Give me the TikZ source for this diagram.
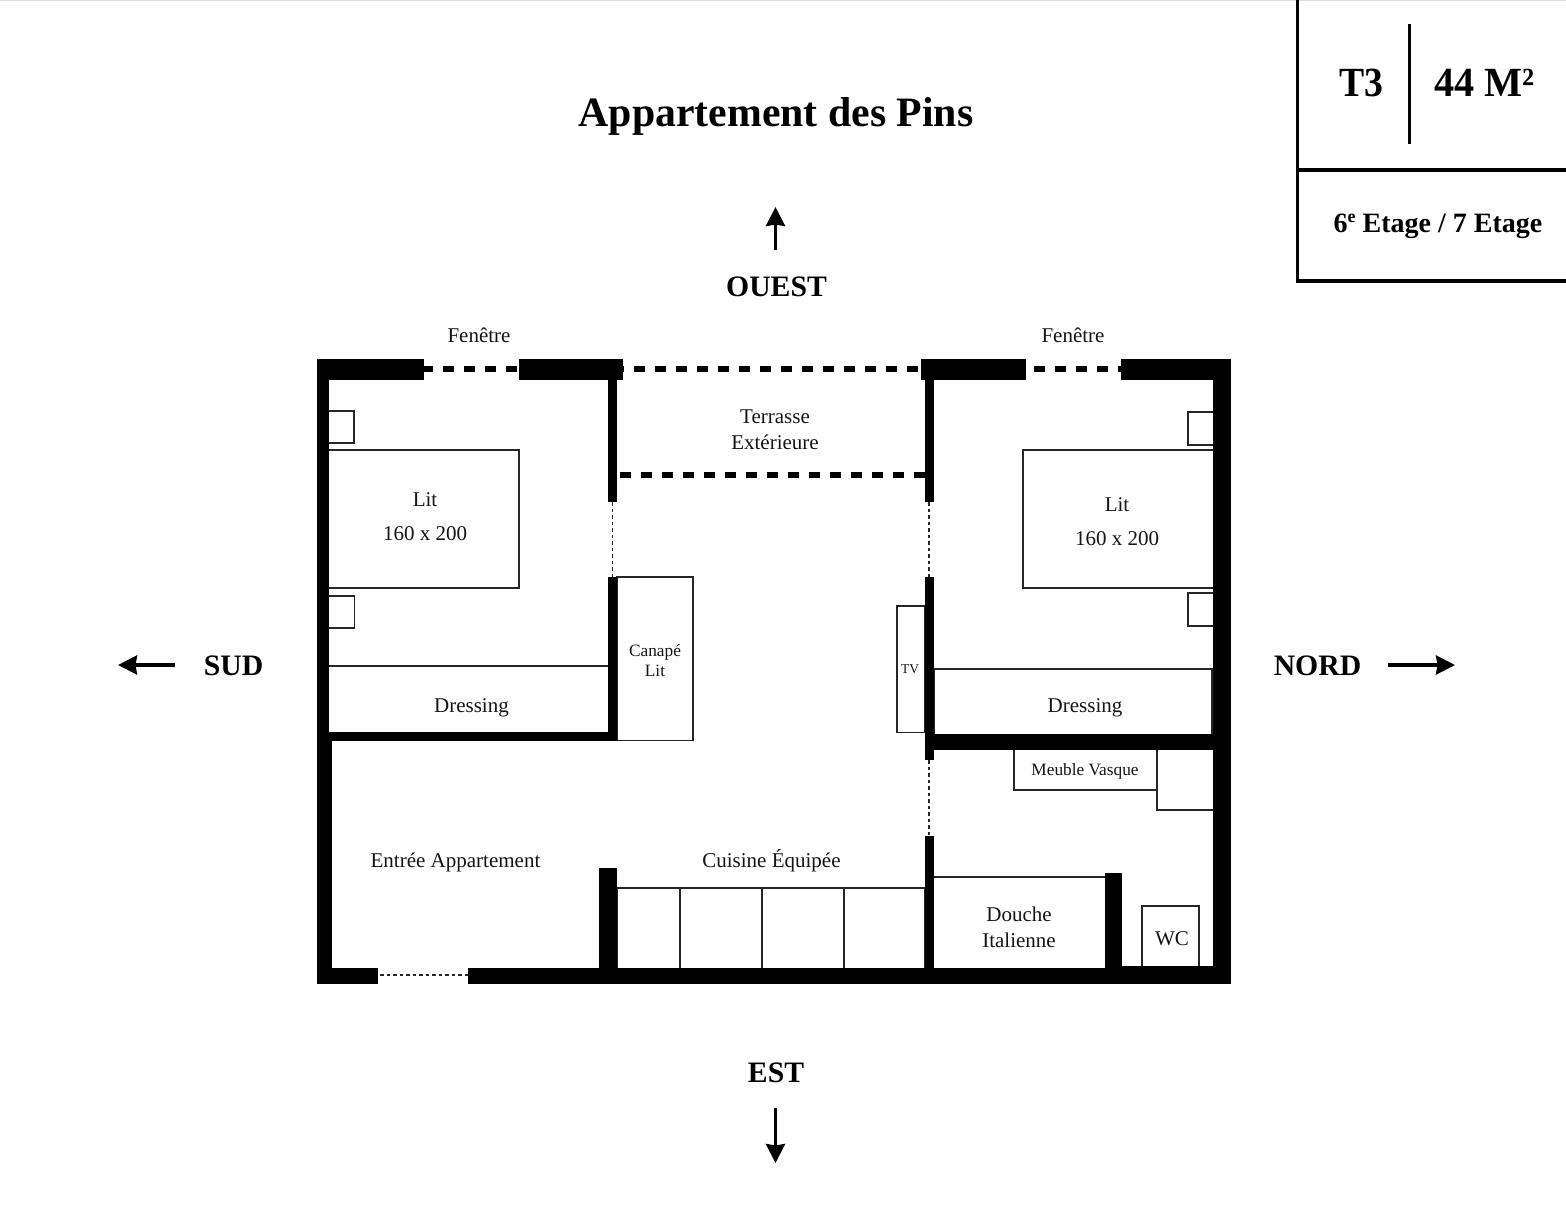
\documentclass[tikz,border=0pt]{standalone}
\usepackage{graphicx}
\usepackage{fontspec}
\setmainfont{Liberation Serif}
\usetikzlibrary{arrows.meta}
\newcommand{\wallrect}[4]{\fill[black] (#1,#2) rectangle (#3,#4);}
\newcommand{\furn}[4]{\draw[furniture] (#1,#2) rectangle (#3,#4);}
\tikzset{
  furniture/.style={draw=black!85,line width=1.2pt},
  openwindow/.style={draw=black,line width=5.5pt,dash pattern=on 10.5pt off 10.5pt},
  opening/.style={draw=black!85,line width=1.6pt,dash pattern=on 3.5pt off 3pt},
  compass/.style={draw=black,line width=3.6pt,-{Stealth[length=19pt,width=19pt,inset=1.5pt]}},
  framing/.style={draw=black,line width=3.5pt},
  lab/.style={anchor=base,inner sep=0pt,align=center,text=black!92,font=\fontsize{21}{26}\selectfont},
  labsmall/.style={lab,font=\fontsize{17.3}{20}\selectfont},
  labbed/.style={lab,font=\fontsize{21}{34}\selectfont},
  head/.style={anchor=base,inner sep=0pt,font=\fontsize{29.7}{34}\selectfont\bfseries},
}
\begin{document}
\begin{tikzpicture}[x=1pt,y=-1pt]
\useasboundingbox (0,0) rectangle (1566,1221);
\fill[black!14] (0,0) rectangle (1566,1.2);
% thin openings
\draw[opening] (612.5,502) -- (612.5,577);
\draw[opening] (929,502) -- (929,577);
\draw[opening] (929,760) -- (929,836);
\draw[opening] (380,975) -- (468,975);
% glazing
\draw[openwindow] (422,369) -- (519,369);
\draw[openwindow] (613,369) -- (921,369);
\draw[openwindow] (1013,369) -- (1125,369);
\draw[openwindow] (620,475) -- (925,475);
% furniture, left room
\furn{328}{411}{354}{443}
\furn{328}{450}{519}{588}
\furn{328}{596}{354.5}{628}
\draw[furniture] (329,666) -- (608,666);
\furn{617}{577}{693}{740.5}
% furniture, right room
\furn{1188}{412}{1214}{445}
\furn{1023}{450}{1214}{588}
\furn{1188}{593}{1214}{626}
\furn{934}{669}{1212}{735}
\furn{897}{606}{925}{732.5}
% bathroom and kitchen fittings
\furn{1014}{749}{1157}{790}
\draw[furniture] (1157,790) -- (1157,810) -- (1214,810);
\furn{617}{888}{925}{969}
\draw[furniture] (680,888) -- (680,968);
\draw[furniture] (762,888) -- (762,968);
\draw[furniture] (844,888) -- (844,968);
\draw[furniture] (934,877) -- (1105,877);
\furn{1142}{906}{1199}{967}
% walls
\wallrect{317}{359}{424}{380}
\wallrect{519}{359}{622.5}{380}
\wallrect{921}{359}{1026}{380}
\wallrect{1121}{359}{1231}{380}
\wallrect{317}{359}{329}{741}
\wallrect{317}{741}{332}{984}
\wallrect{1213}{359}{1231}{984}
\wallrect{608}{380}{617}{502}
\wallrect{608}{577}{617}{741}
\wallrect{329}{732}{617}{741}
\wallrect{925}{380}{934}{502}
\wallrect{925}{577}{934}{760}
\wallrect{925}{734}{1213}{750}
\wallrect{925}{836}{934}{975}
\wallrect{317}{968}{378}{984}
\wallrect{468}{968}{1231}{984}
\wallrect{599}{868}{617}{968}
\wallrect{1105}{873}{1122}{968}
\wallrect{1122}{966}{1213}{968}
% legend frame
\draw[framing] (1297.5,-3) -- (1297.5,281) -- (1570,281);
\draw[framing] (1297.5,170) -- (1570,170);
\draw[framing] (1409.5,24) -- (1409.5,144);
% compass arrows
\coordinate (ns) at (775.5,250); \coordinate (ne) at (775.5,207);
\coordinate (ss) at (175,665); \coordinate (se) at (118,665);
\coordinate (nos) at (1388,665); \coordinate (noe) at (1455,665);
\coordinate (es) at (775.5,1108); \coordinate (ee) at (775.5,1163);
\draw[compass] (ns) -- (ne);
\draw[compass] (ss) -- (se);
\draw[compass] (nos) -- (noe);
\draw[compass] (es) -- (ee);
% headings
\node[head,font=\fontsize{41.8}{46}\selectfont\bfseries] (title) at (776,126) {Appartement des Pins};
\node[head] (ouest) at (776.5,296) {OUEST};
\node[head] (sud) at (233.5,675) {SUD};
\node[head] (nord) at (1317.5,675) {NORD};
\node[head] (est) at (776,1082) {EST};
\node[head,font=\fontsize{37.7}{42}\selectfont\bfseries] (t3) at (1361,96.5) {\scalebox{1}[1.1]{T3}};
\node[head,font=\fontsize{40.3}{42}\selectfont\bfseries] (surf) at (1484.5,96.5) {\scalebox{1}[1.03]{44 M²}};
\node[head,font=\fontsize{28}{32}\selectfont\bfseries] (etage) at (1438,232) {6\raisebox{10pt}{\fontsize{18}{18}\selectfont e} Etage / 7 Etage};
% room labels
\node[lab] (f1) at (479,342) {Fenêtre};
\node[lab] (f2) at (1073,342) {Fenêtre};
\node[lab] (terr) at (775,449) {Terrasse\\Extérieure};
\node[labbed] (lit1) at (425,540) {Lit\\160 x 200};
\node[labbed] (lit2) at (1117,545) {Lit\\160 x 200};
\node[lab] (dr1) at (471.5,712) {Dressing};
\node[lab] (dr2) at (1085,712) {Dressing};
\node[labsmall] (can) at (655,676) {Canapé\\Lit};
\node[lab,font=\fontsize{13.5}{16}\selectfont] (tv) at (910,673) {TV};
\node[labsmall] (mv) at (1085,775) {Meuble Vasque};
\node[lab] (ent) at (455.5,867) {Entrée Appartement};
\node[lab] (cui) at (771.5,867) {Cuisine Équipée};
\node[lab] (dou) at (1019,947) {Douche\\Italienne};
\node[lab] (wc) at (1172,945) {WC};
\end{tikzpicture}
\end{document}
